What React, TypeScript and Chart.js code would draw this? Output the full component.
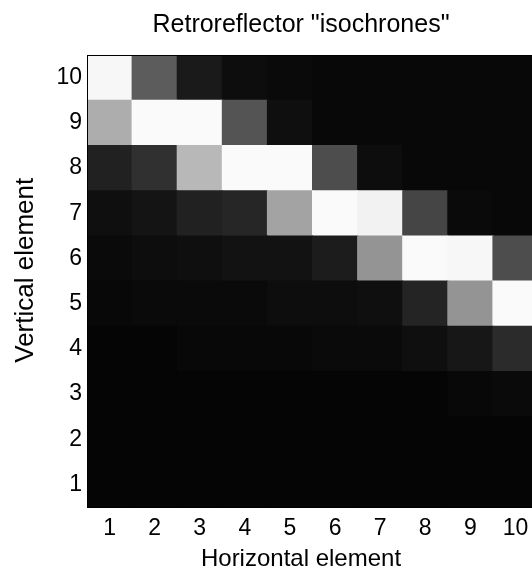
import { useEffect, useRef } from 'react';
import { Chart, registerables } from 'chart.js';

Chart.register(...registerables);
Chart.defaults.font.family = '"Liberation Sans", Arial, Helvetica, sans-serif';

const columns = ['1', '2', '3', '4', '5', '6', '7', '8', '9', '10'];
const rowTicks = [1, 2, 3, 4, 5, 6, 7, 8, 9, 10];

// brightness (0 = black, 1 = white) per vertical element, across horizontal elements 1..10
const row1 = [0.02, 0.02, 0.02, 0.02, 0.02, 0.02, 0.02, 0.02, 0.02, 0.02];
const row2 = [0.02, 0.02, 0.02, 0.02, 0.02, 0.02, 0.02, 0.02, 0.02, 0.02];
const row3 = [0.02, 0.02, 0.02, 0.02, 0.02, 0.02, 0.02, 0.02, 0.03, 0.04];
const row4 = [0.02, 0.02, 0.03, 0.03, 0.03, 0.04, 0.04, 0.06, 0.09, 0.17];
const row5 = [0.03, 0.04, 0.04, 0.04, 0.05, 0.05, 0.06, 0.14, 0.58, 0.98];
const row6 = [0.04, 0.05, 0.06, 0.07, 0.07, 0.11, 0.58, 0.98, 0.97, 0.3];
const row7 = [0.06, 0.08, 0.13, 0.15, 0.64, 0.98, 0.95, 0.27, 0.04, 0.03];
const row8 = [0.13, 0.19, 0.72, 0.98, 0.98, 0.3, 0.05, 0.03, 0.03, 0.03];
const row9 = [0.68, 0.98, 0.98, 0.33, 0.06, 0.03, 0.03, 0.03, 0.03, 0.03];
const row10 = [0.97, 0.36, 0.1, 0.05, 0.04, 0.03, 0.03, 0.03, 0.03, 0.03];
const rowValues = [row1, row2, row3, row4, row5, row6, row7, row8, row9, row10];

const titleText = 'Retroreflector "isochrones"';
const xTitle = 'Horizontal element';
const yTitle = '   Vertical element';

function gray(v: number): string {
  const g = Math.round(v * 255);
  return `rgb(${g},${g},${g})`;
}

export default function App() {
  const ref = useRef<HTMLCanvasElement>(null);

  useEffect(() => {
    if (!ref.current) return;
    const chart = new Chart(ref.current, {
      type: 'bar',
      data: {
        labels: columns,
        datasets: rowTicks.map((r, i) => ({
          label: 'Vertical ' + r,
          data: columns.map(() => [r - 0.5, r + 0.5]),
          backgroundColor: rowValues[i].map(gray),
          borderWidth: 0,
          inflateAmount: 0.5,
          barPercentage: 1,
          categoryPercentage: 1,
          grouped: false,
        })) as any,
      },
      options: {
        animation: false,
        responsive: false,
        events: [],
        layout: { padding: 0 },
        plugins: {
          legend: { display: false },
          tooltip: { enabled: false },
          title: {
            display: true,
            text: titleText,
            color: '#000',
            font: { size: 25, weight: 'normal' },
            padding: { top: 10, bottom: 15 },
          },
          subtitle: {
            display: true,
            position: 'bottom',
            text: xTitle,
            color: '#000',
            font: { size: 24, weight: 'normal' },
            padding: { top: 8, bottom: 0 },
          },
        },
        scales: {
          x: {
            type: 'category',
            position: 'bottom',
            grid: { display: false, drawTicks: false },
            border: { display: true, color: '#000', width: 1, z: 1 },
            ticks: { color: '#000', font: { size: 23 }, padding: 7.7, maxRotation: 0, autoSkip: false },
            afterFit: (s: any) => {
              s.height = 30;
            },
          },
          x2: {
            type: 'linear',
            position: 'top',
            grid: { display: false, drawTicks: false },
            border: { display: true, color: '#000', width: 1, z: 1 },
            ticks: { display: false },
            afterFit: (s: any) => {
              s.height = 0;
            },
          },
          y: {
            type: 'linear',
            min: 0.5,
            max: 10.5,
            grid: { display: false, drawTicks: false },
            border: { display: true, color: '#000', width: 1, z: 1 },
            ticks: { color: '#000', font: { size: 23 }, padding: 5, callback: (v: any) => String(v) },
            afterBuildTicks: (s: any) => {
              s.ticks = rowTicks.map((v) => ({ value: v }));
            },
            title: {
              display: true,
              text: yTitle,
              color: '#000',
              font: { size: 26 },
              padding: { top: 10.4, bottom: 0 },
            },
            afterFit: (s: any) => {
              s.width = 87;
            },
          },
          y2: {
            type: 'linear',
            position: 'right',
            grid: { display: false, drawTicks: false },
            border: { display: false },
            ticks: { display: false },
            afterFit: (s: any) => {
              s.width = 64;
            },
          },
        },
      } as any,
    });
    return () => chart.destroy();
  }, []);

  return (
    <div
      style={{
        position: 'fixed',
        left: 0,
        top: 0,
        width: 532,
        height: 572,
        overflow: 'hidden',
        background: '#fff',
      }}
    >
      <canvas ref={ref} width={602} height={574} style={{ display: 'block', width: 602, height: 574 }} />
    </div>
  );
}
